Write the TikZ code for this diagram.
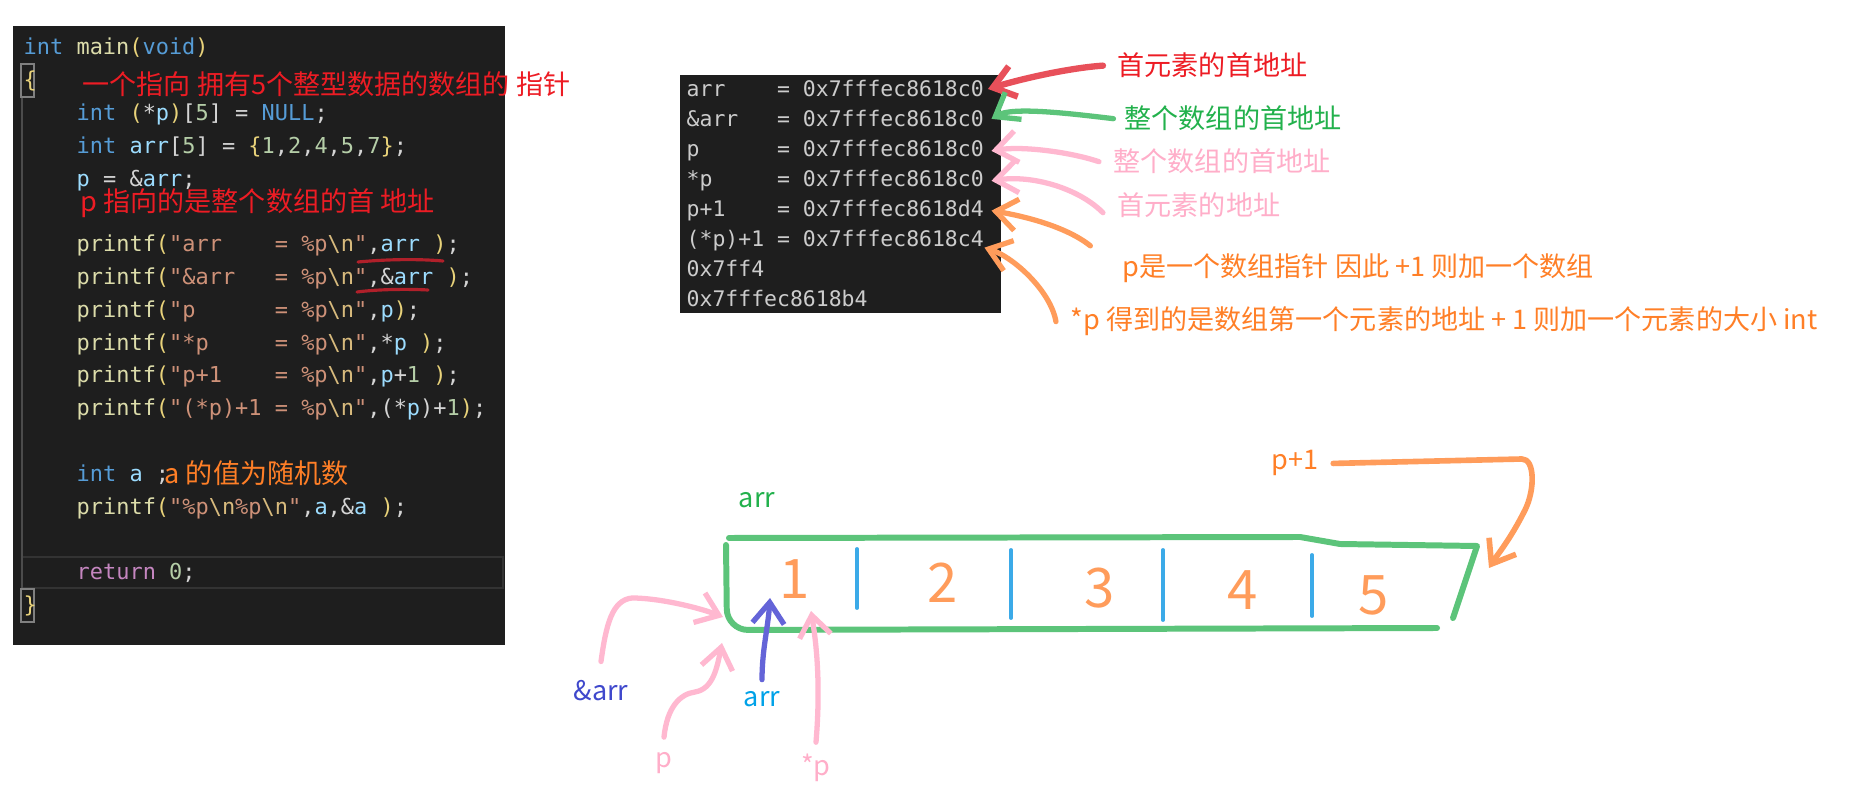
\documentclass[tikz,border=0pt]{standalone}
\usepackage{fontspec}
\usepackage{xcolor}
\usepackage{tikz}
\usetikzlibrary{positioning, arrows.meta}
\setmonofont{DejaVu Sans Mono}
\newfontfamily\cjk{Noto Sans CJK SC}

% editor colours
\definecolor{codebg}{HTML}{1E1E1E}
\definecolor{kw}{HTML}{569CD6}
\definecolor{fn}{HTML}{DCDCAA}
\definecolor{strc}{HTML}{CE9178}
\definecolor{esc}{HTML}{D7BA7D}
\definecolor{var}{HTML}{9CDCFE}
\definecolor{num}{HTML}{B5CEA8}
\definecolor{ctl}{HTML}{C586C0}
\definecolor{pun}{HTML}{D4D4D4}
\definecolor{brk}{HTML}{E8D27A}
\definecolor{outtxt}{HTML}{CCCCCC}
% marker colours
\definecolor{mred}{HTML}{ED1C24}
\definecolor{mgreen}{HTML}{22B14C}
\definecolor{mpink}{HTML}{FFAEC9}
\definecolor{morange}{HTML}{FF7F27}
\definecolor{mdblue}{HTML}{3F48CC}
\definecolor{msky}{HTML}{00A2E8}
\definecolor{redpen}{HTML}{E8505A}
\definecolor{greenpen}{HTML}{5CC47A}
\definecolor{pinkpen}{HTML}{FFB8D0}
\definecolor{orangepen}{HTML}{FF9C5B}
\definecolor{bluepen}{HTML}{3BAAE8}
\definecolor{dbluepen}{HTML}{6464D8}
\definecolor{ulred}{HTML}{B0202A}

\newcommand\ckw[1]{\textcolor{kw}{#1}}
\newcommand\cfn[1]{\textcolor{fn}{#1}}
\newcommand\cst[1]{\textcolor{strc}{#1}}
\newcommand\cesc{\textcolor{esc}{\textbackslash n}}
\newcommand\cvar[1]{\textcolor{var}{#1}}
\newcommand\cnum[1]{\textcolor{num}{#1}}
\newcommand\cbr[1]{\textcolor{brk}{#1}}

\begin{document}
\begin{tikzpicture}[
    x=0.01cm, y=-0.01cm,
    >={Straight Barb[length=6pt,width=9pt]},
    code/.style={font=\ttfamily\fontsize{6.24}{7}\selectfont, text=pun, anchor=base west, inner sep=0},
    outline/.style={font=\ttfamily\fontsize{6.1}{7}\selectfont, text=outtxt, anchor=base west, inner sep=0},
    note/.style={font=\cjk\fontsize{7.7}{9}\selectfont, anchor=base west, inner sep=0},
    lbl/.style={font=\cjk\fontsize{7.7}{9}\selectfont, anchor=base, inner sep=1pt},
    digit/.style={font=\cjk\fontsize{15.5}{17}\selectfont, text=orangepen, inner sep=0},
    pen/.style={line width=1.5pt, line cap=round, line join=round},
    underl/.style={draw=ulred, line width=0.9pt, line cap=round}
]
\useasboundingbox (0,0) rectangle (1864,810);
\fill[white] (0,0) rectangle (1864,810);

% Panels
\fill[codebg] (13,26) rectangle (505,645);
\fill[codebg] (680,75) rectangle (1001,313);
\draw[draw=black!80!white, line width=0.6pt] (22,557) rectangle (503,588);
\draw[draw=black!70!white, line width=0.4pt] (22,97) -- (22,589);
\draw[draw=gray, line width=0.4pt] (21,64) rectangle (34,97);
\draw[draw=gray, line width=0.4pt] (21,589) rectangle (34,622);

% Code
\node[code] (l0) at (23,55) {\ckw{int} \cfn{main}\cbr{(}\ckw{void}\cbr{)}};
\node[code] (l1) at (23,87.8) {\cbr{\{}};
\node[code] (l2) at (76,120.6) {\ckw{int} \cbr{(}*\cvar{p}\cbr{)}[\cnum{5}] = \ckw{NULL};};
\node[code] (l3) at (76,153.4) {\ckw{int} \cvar{arr}[\cnum{5}] = \cbr{\{}\cnum{1},\cnum{2},\cnum{4},\cnum{5},\cnum{7}\cbr{\}};};
\node[code] (l4) at (76,186.2) {\cvar{p} = \&\cvar{arr};};
\node[code] (l6) at (76,251.8) {\cfn{printf}\cbr{(}\cst{"arr~~~~=~\%p}\cesc\cst{"},\cvar{arr}~\cbr{)};};
\node[code] (l7) at (76,284.6) {\cfn{printf}\cbr{(}\cst{"\&arr~~~=~\%p}\cesc\cst{"},\&\cvar{arr}~\cbr{)};};
\node[code] (l8) at (76,317.4) {\cfn{printf}\cbr{(}\cst{"p~~~~~~=~\%p}\cesc\cst{"},\cvar{p}\cbr{)};};
\node[code] (l9) at (76,350.2) {\cfn{printf}\cbr{(}\cst{"*p~~~~~=~\%p}\cesc\cst{"},*\cvar{p}~\cbr{)};};
\node[code] (l10) at (76,383) {\cfn{printf}\cbr{(}\cst{"p+1~~~~=~\%p}\cesc\cst{"},\cvar{p}+\cnum{1}~\cbr{)};};
\node[code] (l11) at (76,415.8) {\cfn{printf}\cbr{(}\cst{"(*p)+1~=~\%p}\cesc\cst{"},(*\cvar{p})+\cnum{1}\cbr{)};};
\node[code] (l13) at (76,481.4) {\ckw{int} \cvar{a} ;};
\node[code] (l14) at (76,514.2) {\cfn{printf}\cbr{(}\cst{"\%p}\cesc\cst{\%p}\cesc\cst{"},\cvar{a},\&\cvar{a}~\cbr{)};};
\node[code] (l16) at (76,579.8) {\textcolor{ctl}{return} \cnum{0};};
\node[code] (l17) at (23,612.6) {\cbr{\}}};

% Notes in the code
\node[note, text=mred] (c1) at (82,95) {一个指向 拥有5个整型数据的数组的 指针};
\node[note, text=mred] (c2) at (80,212) {p 指向的是整个数组的首 地址};
\node[note, text=morange] (c3) at (164,484) {a 的值为随机数};
\draw[underl] (358,262) .. controls (390,259) and (420,259) .. (443,261);
\draw[underl] (357,292) .. controls (380,289) and (410,289) .. (428,290);

% Output
\foreach \txt [count=\i] in {{arr~~~~=~0x7fffec8618c0}, {\&arr~~~=~0x7fffec8618c0}, {p~~~~~~=~0x7fffec8618c0}, {*p~~~~~=~0x7fffec8618c0}, {p+1~~~~=~0x7fffec8618d4}, {(*p)+1~=~0x7fffec8618c4}, {0x7ff4}, {0x7fffec8618b4}}
  \node[outline] (o\i) at (686,{97+29.9*(\i-1)}) {\txt};

\node[note, text=mred] (n1) at (1117,76) {首元素的首地址};
\node[note, text=mgreen] (n2) at (1124,129) {整个数组的首地址};
\node[note, text=mpink] (n3) at (1113,172) {整个数组的首地址};
\node[note, text=mpink] (n4) at (1117,216) {首元素的地址};
\node[note, text=morange] (n5) at (1122,277) {p是一个数组指针 因此 +1 则加一个数组};
\node[note, text=morange] (n6) at (1070,330) {*p 得到的是数组第一个元素的地址 + 1 则加一个元素的大小 int};

\draw[pen, redpen, <-, line width=1.8pt] ([xshift=1pt]o1.east) .. controls +(40,-12) and +(-30,2) .. ([xshift=-4pt]n1.west);
\draw[pen, greenpen, <-] ([xshift=2pt]o2.east) .. controls +(20,-12) and +(-50,-6) .. ([xshift=-3pt]n2.west);
\draw[pen, pinkpen, <-] ([xshift=2pt]o3.east) .. controls +(30,-5) and +(-30,-10) .. ([xshift=-4pt]n3.west);
\draw[pen, pinkpen, <-] ([xshift=2pt]o4.east) .. controls +(40,-6) and +(-25,-25) .. ([shift={(-4pt,-2pt)}]n4.west);
\draw[pen, orangepen, <-] ([xshift=2pt]o5.east) .. controls +(30,5) and +(-25,-20) .. ([shift={(-9pt,6.5pt)}]n5.west);
\draw[pen, orangepen, <-] ([shift={(0pt,-2pt)}]o6.east) .. controls +(30,10) and +(-5,-30) .. ([xshift=-4pt]n6.west);

% Array
\draw[pen, greenpen, line width=1.7pt] (729,538) -- (1300,537) -- (1340,544) -- (1477,546) -- (1453,618);
\draw[pen, greenpen, line width=1.7pt, rounded corners=6] (726,545) -- (727,630) -- (1437,628);
\foreach \x/\ya/\yb in {857/549/608, 1011/550/618, 1163/550/620, 1312/555/616}
  \draw[pen, bluepen, line width=1.1pt] (\x,\ya) -- (\x,\yb);
\foreach \d/\x/\y in {1/795/579, 2/943/583, 3/1100/588, 4/1243/590, 5/1374/595}
  \node[digit] (d\d) at (\x,\y) {\d};

% Labels
\node[lbl, text=mgreen] (arrtop) at (757,508) {arr};
\node[lbl, text=morange] (lp1) at (1295,470) {p+1};
\node[lbl, text=mdblue] (lamp) at (601,700) {\&arr};
\node[lbl, text=msky] (larr) at (762,706) {arr};
\node[lbl, text=mpink] (lp) at (664,767) {p};
\node[lbl, text=mpink] (lstar) at (816,775) {*p};

\coordinate (tipA) at (723,617);
\coordinate (tipP) at (722,643);
\coordinate (tipB) at (770,598);
\coordinate (tipS) at (811,611);
\coordinate (tipQ) at (1489,568);

% Edges
\draw[pen, pinkpen, ->] ([yshift=4pt]lamp.north) .. controls (606,625) and (612,600) .. (632,598) .. controls (660,598) and (700,608) .. (tipA);
\draw[pen, pinkpen, ->] ([yshift=3pt]lp.north) .. controls +(3,-30) and +(-15,2) .. (695,692) .. controls +(18,-3) and +(-5,25) .. (tipP);
\draw[pen, dbluepen, ->] ([yshift=2pt]larr.north) .. controls +(0,-30) and +(-2,30) .. (tipB);
\draw[pen, pinkpen, ->] ([yshift=2pt]lstar.north) .. controls +(5,-60) and +(5,30) .. (tipS);
\draw[pen, orangepen, ->, line width=1.6pt] ([xshift=3pt]lp1.east) -- (1522,459) .. controls (1535,459) and (1535,490) .. (1525,510) .. controls (1510,540) and (1497,555) .. (tipQ);
\end{tikzpicture}
\end{document}
